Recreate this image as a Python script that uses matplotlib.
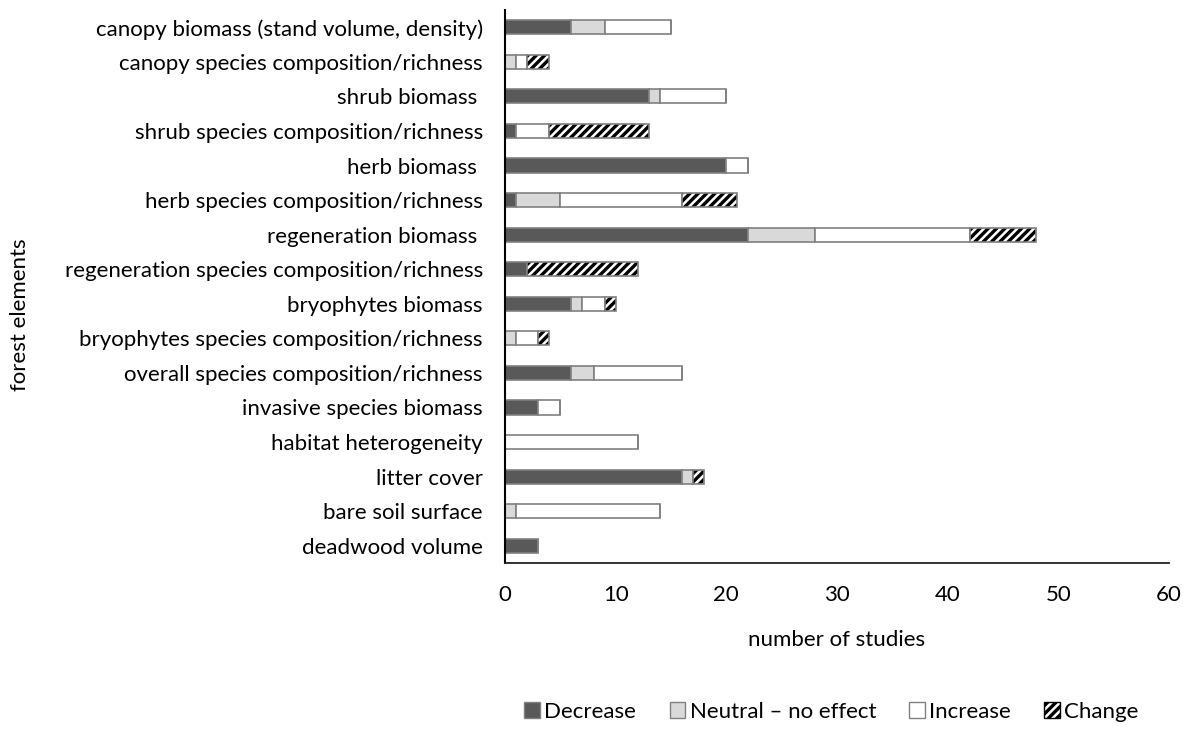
import numpy as np
import matplotlib.pyplot as plt
from matplotlib.patches import Patch

plt.rcParams['font.family'] = ['Lato', 'DejaVu Sans']
plt.rcParams['hatch.linewidth'] = 2.4

elements = ['canopy biomass (stand volume, density)',
            'canopy species composition/richness',
            'shrub biomass ',
            'shrub species composition/richness',
            'herb biomass ',
            'herb species composition/richness',
            'regeneration biomass ',
            'regeneration species composition/richness',
            'bryophytes biomass',
            'bryophytes species composition/richness',
            'overall species composition/richness',
            'invasive species biomass',
            'habitat heterogeneity',
            'litter cover',
            'bare soil surface',
            'deadwood volume']

decrease = [6, 0, 13, 1, 20, 1, 22, 2, 6, 0, 6, 3, 0, 16, 0, 3]
neutral  = [3, 1, 1, 0, 0, 4, 6, 0, 1, 1, 2, 0, 0, 1, 1, 0]
increase = [6, 1, 6, 3, 2, 11, 14, 0, 2, 2, 8, 2, 12, 0, 13, 0]
change   = [0, 2, 0, 9, 0, 5, 6, 10, 1, 1, 0, 0, 0, 1, 0, 0]

edge = '#808080'
fs = 16
fig = plt.figure(figsize=(11.88, 7.29), dpi=100)
ax = fig.add_axes([0.4251, 0.2277, 0.5589, 0.7586])

y = np.arange(len(elements))
h = 0.41
left = np.zeros(len(elements))
ax.barh(y, decrease, h, left=left, color='#595959', edgecolor=edge, linewidth=1.2)
left += decrease
ax.barh(y, neutral, h, left=left, color='#d9d9d9', edgecolor=edge, linewidth=1.2)
left += neutral
ax.barh(y, increase, h, left=left, color='white', edgecolor=edge, linewidth=1.2)
left += increase
# hatch drawn in black, outline overlaid in grey
ax.barh(y, change, h, left=left, color='white', edgecolor='black', hatch='////', linewidth=0)
ax.barh(y, change, h, left=left, fill=False, edgecolor=edge, linewidth=1.2)

ax.set_ylim(len(elements) - 0.5, -0.5)
ax.set_xlim(0, 60)
ax.set_xticks(range(0, 61, 10))
ax.set_yticks(y)
ax.set_yticklabels(elements, fontsize=fs)
ax.tick_params(axis='x', length=0, pad=16, labelsize=fs)
ax.tick_params(axis='y', length=0, pad=16)
for s in ['top', 'right']:
    ax.spines[s].set_visible(False)
ax.spines['left'].set_linewidth(1.5)
ax.spines['left'].set_color('black')
ax.spines['bottom'].set_linewidth(1.3)
ax.spines['bottom'].set_color('#222222')

fig.text(0.7045, 1 - 640 / 729, 'number of studies', ha='center', va='center', fontsize=fs)
fig.text(20 / 1188, 1 - 315 / 729, 'forest elements', ha='center', va='center',
         rotation=90, fontsize=fs)

handles = [Patch(facecolor='#595959', edgecolor=edge, label='Decrease'),
           Patch(facecolor='#d9d9d9', edgecolor=edge, label='Neutral \u2013 no effect'),
           Patch(facecolor='white', edgecolor=edge, label='Increase'),
           Patch(facecolor='white', edgecolor='black', hatch='////', label='Change')]
fig.legend(handles=handles, loc='center', bbox_to_anchor=(0.70, 1 - 712 / 729), ncol=4,
           frameon=False, fontsize=fs, handlelength=0.7, handleheight=0.7,
           handletextpad=0.2, columnspacing=1.5)

fig.savefig('out.png', dpi=100)
